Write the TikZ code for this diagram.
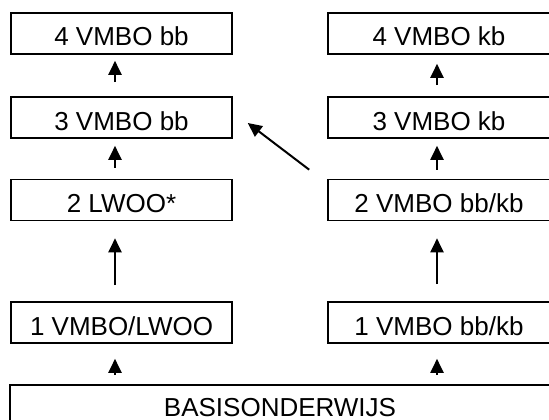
\documentclass[tikz,border=0pt]{standalone}
\usepackage{fontspec}
\setmainfont{Liberation Sans}
\usetikzlibrary{arrows.meta}

\begin{document}
\begin{tikzpicture}[x=1pt,y=-1pt,
  every node/.style={draw=black, line width=1.6pt, minimum height=41pt, inner sep=0pt,
    text height=28pt, text depth=3pt, font=\fontsize{26}{30}\selectfont},
  up/.style={-{Triangle[length=14pt,width=13pt]}, line width=2pt}]
\useasboundingbox (0,0) rectangle (549,420);
\clip (0,0) rectangle (549,420);
\node[minimum width=221pt] (L4) at (121.5,33.5) {4 VMBO bb};
\node[minimum width=221pt] (L3) at (121.5,117.5) {3 VMBO bb};
\node[minimum width=221pt] (L2) at (121.5,200) {2 LWOO*};
\node[minimum width=221pt] (L1) at (121.5,322.5) {1 VMBO/LWOO};
\node[minimum width=222pt] (R4) at (439,33.5) {4 VMBO kb};
\node[minimum width=222pt] (R3) at (439,117.5) {3 VMBO kb};
\node[minimum width=222pt] (R2) at (439,200) {2 VMBO bb/kb};
\node[minimum width=222pt] (R1) at (439,322.5) {1 VMBO bb/kb};
\node[minimum width=540pt, text depth=7pt] (B) at (280,405.5) {BASISONDERWIJS};

\draw[up, shorten <=14pt, shorten >=6pt] ([xshift=-6.5pt]L3.north) -- ([xshift=-6.5pt]L4.south);
\draw[up, shorten <=11pt, shorten >=7pt] ([xshift=-6.5pt]L2.north) -- ([xshift=-6.5pt]L3.south);
\draw[up, shorten <=16pt, shorten >=17pt] ([xshift=-6.5pt]L1.north) -- ([xshift=-6.5pt]L2.south);
\draw[up, shorten <=9pt, shorten >=15pt] (B.north -| L1.south) ++(-6.5,0) coordinate (b1) (b1) -- ([xshift=-6.5pt]L1.south);
\draw[up, shorten <=11pt, shorten >=9pt] ([xshift=-2pt]R3.north) -- ([xshift=-2pt]R4.south);
\draw[up, shorten <=9pt, shorten >=7pt] ([xshift=-2pt]R2.north) -- ([xshift=-2pt]R3.south);
\draw[up, shorten <=17pt, shorten >=17pt] ([xshift=-2pt]R1.north) -- ([xshift=-2pt]R2.south);
\draw[up, shorten <=9pt, shorten >=15pt] (B.north -| R1.south) ++(-2,0) coordinate (b2) (b2) -- ([xshift=-2pt]R1.south);
\draw[up] ([shift={(-18,-9)}]R2.north west) -- ([shift={(15,5.5)}]L3.east);
\end{tikzpicture}
\end{document}
